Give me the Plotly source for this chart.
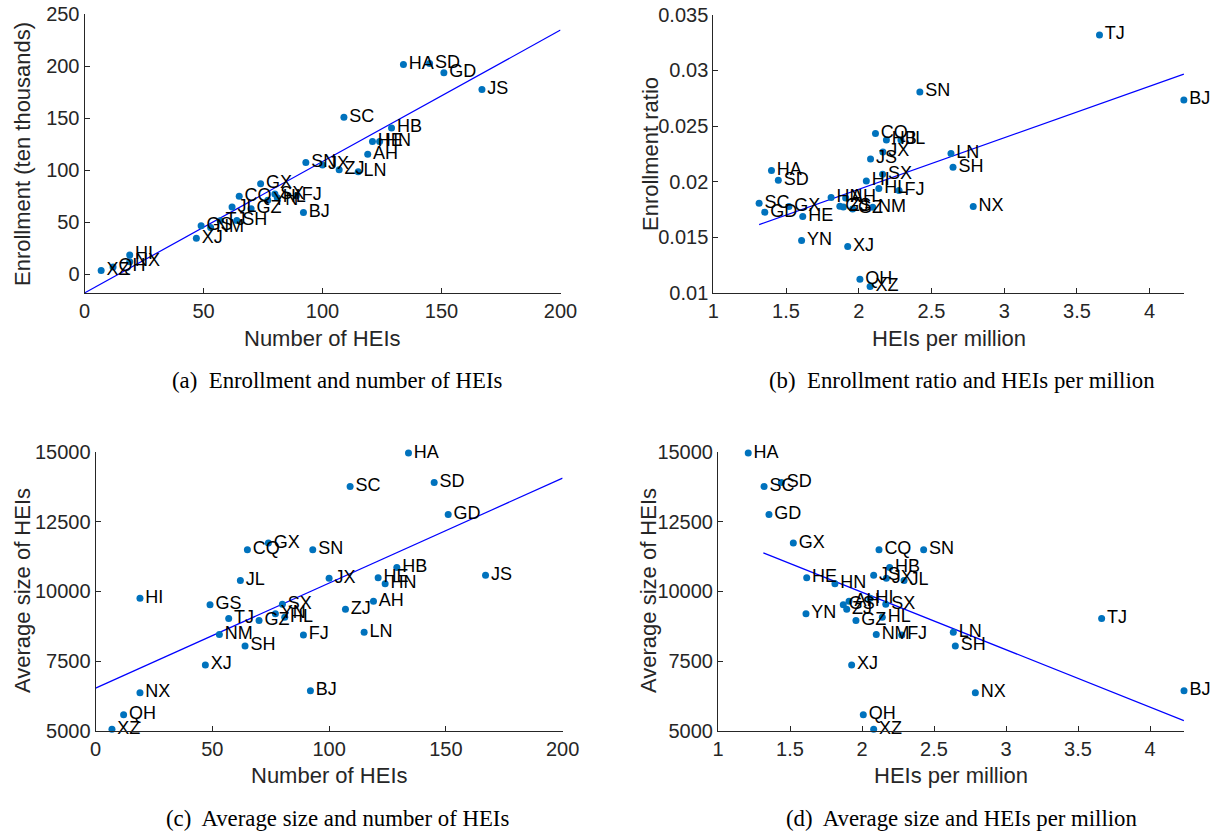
import numpy as np
import plotly.graph_objects as go

provinces = ["AH", "BJ", "CQ", "FJ", "GD", "GS", "GX", "GZ", "HA", "HB", "HE", "HI", "HL", "HN", "JL", "JS",
             "JX", "LN", "NM", "NX", "QH", "SC", "SD", "SH", "SN", "SX", "TJ", "XJ", "XZ", "YN", "ZJ"]
n_heis = [119, 92, 65, 89, 151, 49, 74, 70, 134, 129, 121, 19, 81, 124, 62, 167,
          100, 115, 53, 19, 12, 109, 145, 64, 93, 80, 57, 47, 7, 77, 107]
enrollment = [115.3, 59.4, 75.0, 75.5, 193.5, 46.5, 87.0, 63.0, 201.5, 140.5, 127.5, 18.5, 73.5, 127.5, 64.5, 177.5,
              105.0, 98.5, 45.0, 12.1, 7.0, 150.7, 202.5, 51.7, 107.3, 77.0, 51.5, 34.5, 3.5, 71.0, 100.5]
# HEIs per million; used for the fitted lines
heis_per_million = [1.91, 4.235, 2.115, 2.277, 1.354, 1.87, 1.52, 1.958, 1.40, 2.19, 1.615, 2.052, 2.138, 1.81, 2.29, 2.081,
                    2.166, 2.634, 2.096, 2.787, 2.008, 1.315, 1.447, 2.648, 2.42, 2.164, 3.655, 1.924, 2.078, 1.607, 1.894]
# HEIs per million as the markers appear in panel (d) (HA sits further left there)
heis_per_million_d = [1.91, 4.236, 2.118, 2.276, 1.354, 1.87, 1.523, 1.958, 1.21, 2.192, 1.616, 2.056, 2.141, 1.812, 2.292,
                      2.081, 2.169, 2.634, 2.099, 2.787, 2.009, 1.32, 1.44, 2.648, 2.428, 2.165, 3.664, 1.928, 2.081,
                      1.611, 1.894]
enrollment_ratio = [0.01853, 0.02735, 0.02432, 0.01919, 0.01725, 0.01777, 0.01775, 0.01754, 0.02099, 0.02375, 0.01685,
                    0.02006, 0.01937, 0.01856, 0.02375, 0.02204, 0.02267, 0.02252, 0.0177, 0.01775, 0.01122, 0.01806,
                    0.02013, 0.0213, 0.02807, 0.02067, 0.0332, 0.01415, 0.01056, 0.01469, 0.01772]
avg_size = [9648, 6437, 11491, 8437, 12759, 9515, 11731, 8951, 14964, 10855, 10485, 9756, 9073, 10270, 10388, 10582,
            10474, 8534, 8448, 6365, 5575, 13765, 13908, 8042, 11491, 9540, 9023, 7360, 5050, 9192, 9361]

captions = ["(a)  Enrollment and number of HEIs", "(b)  Enrollment ratio and HEIs per million",
            "(c)  Average size and number of HEIs", "(d)  Average size and HEIs per million"]

W, H = 1217, 835
AX = "#262626"
DOT = "#0072BD"
SANS = "Liberation Sans, Arial, sans-serif"
SERIF = "Liberation Serif, Times New Roman, serif"
TICK = 20
TITLE = 22
LABEL = 18
CAP = 22.8

# panel pixel boxes: left, right, top, bottom
boxes = {
    "a": (84.5, 560.5, 14, 293.3),
    "b": (713.3, 1184, 14.9, 292.7),
    "c": (95.6, 562.6, 452, 730.7),
    "d": (718, 1184, 452, 730.7),
}

# key, marker x, marker y, fit x, line extent, x range, y range
panels = [
    ("a", n_heis, enrollment, n_heis, "line_full", [0, 200], [-18.3, 250]),
    ("b", heis_per_million, enrollment_ratio, heis_per_million, "line_data", [1, 4.236], [0.01, 0.035]),
    ("c", n_heis, avg_size, n_heis, "line_full", [0, 200], [5000, 15000]),
    ("d", heis_per_million_d, avg_size, heis_per_million, "line_data", [1, 4.236], [5000, 15000]),
]

fig = go.Figure()
layout = dict(width=W, height=H, margin=dict(l=0, r=0, t=0, b=0, pad=0, autoexpand=False),
              paper_bgcolor="white", plot_bgcolor="white", showlegend=False)

for i, (key, xs, ys, fx, mode, xr, yr) in enumerate(panels):
    sfx = "" if i == 0 else str(i + 1)
    xa, ya = "x" + sfx, "y" + sfx
    l, r, t, b = boxes[key]
    fx_arr = np.array(fx, dtype=float)
    ys_arr = np.array(ys, dtype=float)
    k, c0 = np.polyfit(fx_arr, ys_arr, 1)
    if mode == "line_full":
        lx = np.array(xr, dtype=float)
    else:
        lx = np.array([fx_arr.min(), fx_arr.max()])
    fig.add_trace(go.Scatter(x=lx, y=k * lx + c0, mode="lines", line=dict(color="#0000FF", width=1.2),
                             xaxis=xa, yaxis=ya, hoverinfo="skip"))
    fig.add_trace(go.Scatter(x=xs, y=ys, mode="markers+text", text=provinces, textposition="middle right",
                             textfont=dict(family=SANS, size=LABEL, color="black"),
                             marker=dict(color=DOT, size=7), cliponaxis=False, xaxis=xa, yaxis=ya))
    if key in ("a", "c"):
        xt = [0, 50, 100, 150, 200]
        xtt = [str(v) for v in xt]
    else:
        xt = [1, 1.5, 2, 2.5, 3, 3.5, 4]
        xtt = ["1", "1.5", "2", "2.5", "3", "3.5", "4"]
    if key == "a":
        yt = [0, 50, 100, 150, 200, 250]
        ytt = [str(v) for v in yt]
    elif key == "b":
        yt = [0.01, 0.015, 0.02, 0.025, 0.03, 0.035]
        ytt = ["0.01", "0.015", "0.02", "0.025", "0.03", "0.035"]
    else:
        yt = [5000, 7500, 10000, 12500, 15000]
        ytt = [str(v) for v in yt]
    common = dict(showgrid=False, zeroline=False, showline=True, linecolor=AX, linewidth=1,
                  ticks="inside", ticklen=5, tickcolor=AX, tickwidth=1, automargin=False,
                  tickfont=dict(family=SANS, size=TICK, color=AX), mirror=False)
    layout["xaxis" + sfx] = dict(domain=[l / W, r / W], range=xr, anchor=ya, tickvals=xt, ticktext=xtt, **common)
    layout["yaxis" + sfx] = dict(domain=[1 - b / H, 1 - t / H], range=yr, anchor=xa, tickvals=yt, ticktext=ytt, **common)

fig.update_layout(**layout)

ann = []
def add_text(txt, px, py, size, family, color, angle=0):
    ann.append(dict(text=txt, x=px / W, y=1 - py / H, xref="paper", yref="paper", showarrow=False,
                    xanchor="center", yanchor="middle", textangle=angle,
                    font=dict(family=family, size=size, color=color)))

add_text("Number of HEIs", 322, 338, TITLE, SANS, AX)
add_text("HEIs per million", 949, 338, TITLE, SANS, AX)
add_text("Number of HEIs", 329, 775, TITLE, SANS, AX)
add_text("HEIs per million", 951, 775, TITLE, SANS, AX)
add_text("Enrollment (ten thousands)", 22, 154, TITLE, SANS, AX, -90)
add_text("Enrollment ratio", 650, 154, TITLE, SANS, AX, -90)
add_text("Average size of HEIs", 22, 591, TITLE, SANS, AX, -90)
add_text("Average size of HEIs", 648, 591, TITLE, SANS, AX, -90)
add_text(captions[0], 337, 380, CAP, SERIF, "black")
add_text(captions[1], 962, 380, CAP, SERIF, "black")
add_text(captions[2], 337, 818, CAP, SERIF, "black")
add_text(captions[3], 962, 818, CAP, SERIF, "black")
fig.update_layout(annotations=ann)

fig.write_html("out.html", config={"responsive": False, "displayModeBar": False},
               post_script="document.body.style.margin='0px';document.body.style.overflow='hidden';")
